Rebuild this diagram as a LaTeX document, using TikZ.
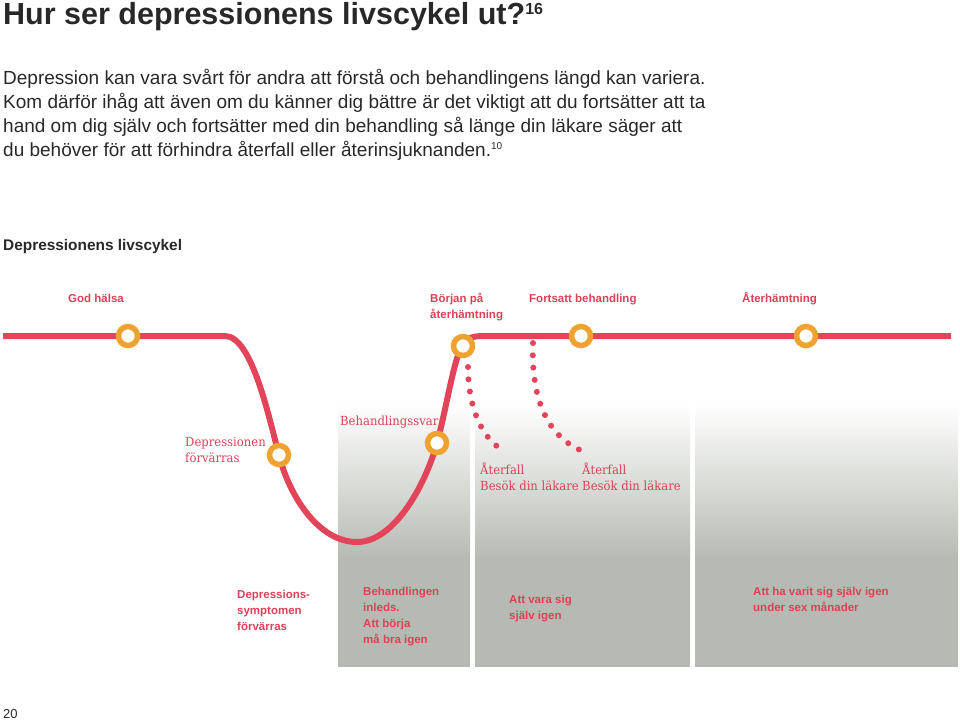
\documentclass[tikz,border=0pt]{standalone}
\usepackage{fontspec}
\setmainfont{Liberation Sans}
\newfontfamily\slab[FakeStretch=0.93]{DejaVu Serif}
\definecolor{lred}{RGB}{226,68,90}
\definecolor{tred}{RGB}{218,66,88}
\definecolor{ring}{RGB}{240,162,48}
\definecolor{boxgray}{RGB}{182,186,178}
\definecolor{ink}{RGB}{40,40,40}
\begin{document}
\begin{tikzpicture}[x=1pt,y=-1pt,
  lbl/.style={anchor=base west,inner sep=0,text=tred,font=\bfseries\fontsize{11.5}{15.8}\selectfont,align=left},
  slbl/.style={anchor=base west,inner sep=0,text=tred,font=\slab\fontsize{12.5}{16}\selectfont,align=left},
  station/.style={circle,draw=ring,line width=5.5pt,fill=white,minimum size=19pt,inner sep=0},
  mainline/.style={draw=lred,line width=6pt},
  dotline/.style={draw=lred,line width=6pt,line cap=round,dash pattern=on 0pt off 12.3pt}]
\useasboundingbox (0,0) rectangle (960,721);
% gray boxes
\shade[top color=white,bottom color=boxgray] (338,403) rectangle (470,560);
\fill[boxgray] (338,559.5) rectangle (470,667);
\shade[top color=white,bottom color=boxgray] (475,403) rectangle (690,560);
\fill[boxgray] (475,559.5) rectangle (690,667);
\shade[top color=white,bottom color=boxgray] (695,403) rectangle (958,560);
\fill[boxgray] (695,559.5) rectangle (958,667);
% texts (base anchor = baseline of the last line)
\node[anchor=base west,inner sep=0,text=ink,font=\bfseries\fontsize{30.5}{32}\selectfont] (title) at (3,24) {Hur ser depressionens livscykel ut?\raisebox{10pt}{\fontsize{16}{17}\selectfont 16}};
\node[anchor=base west,inner sep=0,text=ink,font=\fontsize{19}{24}\selectfont,align=left] (para) at (3,156) {Depression kan vara svårt för andra att förstå och behandlingens längd kan variera.\\Kom därför ihåg att även om du känner dig bättre är det viktigt att du fortsätter att ta\\hand om dig själv och fortsätter med din behandling så länge din läkare säger att\\du behöver för att förhindra återfall eller återinsjuknanden.\raisebox{7pt}{\fontsize{10}{11}\selectfont 10}};
\node[anchor=base west,inner sep=0,text=ink,font=\bfseries\fontsize{15.4}{17}\selectfont] (sub) at (3,250) {Depressionens livscykel};
\node[lbl] (l1) at (68,302) {God hälsa};
\node[lbl] (l2) at (430,318) {Början på\\återhämtning};
\node[lbl] (l3) at (529,302) {Fortsatt behandling};
\node[lbl] (l4) at (742,302) {Återhämtning};
\node[slbl] (s1) at (185,462) {Depressionen\\förvärras};
\node[slbl] (s2) at (340,425) {Behandlingssvar};
\node[slbl] (s3) at (480,490) {Återfall\\Besök din läkare};
\node[slbl] (s4) at (582,490) {Återfall\\Besök din läkare};
\node[lbl] (b1) at (237,630) {Depressions-\\symptomen\\förvärras};
\node[lbl] (b2) at (363,643) {Behandlingen\\inleds.\\Att börja\\må bra igen};
\node[lbl] (b3) at (509,619) {Att vara sig\\själv igen};
\node[lbl] (b4) at (753,611) {Att ha varit sig själv igen\\under sex månader};
\node[anchor=base west,inner sep=0,text=ink,font=\fontsize{13}{14}\selectfont] (page) at (3,718) {20};
% line
\coordinate (start) at (3,336);
\coordinate (p1) at (128,336);
\coordinate (p2) at (279,455);
\coordinate (bot) at (357,542);
\coordinate (p3) at (437,443);
\coordinate (p4) at (463,346);
\coordinate (p5) at (581,336);
\coordinate (p6) at (806,336);
\coordinate (end) at (951,336);
\path[mainline] (start) -- (225,336) .. controls (252,336) and (269,418) .. (p2)
  .. controls (289,495) and (318,542) .. (bot)
  .. controls (394,542) and (425,486) .. (p3)
  .. controls (447,406) and (455,352) .. (p4)
  .. controls (468,337) and (472,336) .. (486,336) -- (end);
% relapse dots
\coordinate (d1s) at (468,367);
\coordinate (d1e) at (506,452);
\coordinate (d2s) at (533,343);
\coordinate (d2e) at (580,450);
\path[dotline] (d1s) .. controls (468,400) and (478,438) .. (d1e);
\path[dotline] (d2s) .. controls (531,395) and (545,434) .. (d2e);
% stations
\foreach \p in {p1,p2,p3,p4,p5,p6} \node[station] at (\p) {};
\end{tikzpicture}
\end{document}
